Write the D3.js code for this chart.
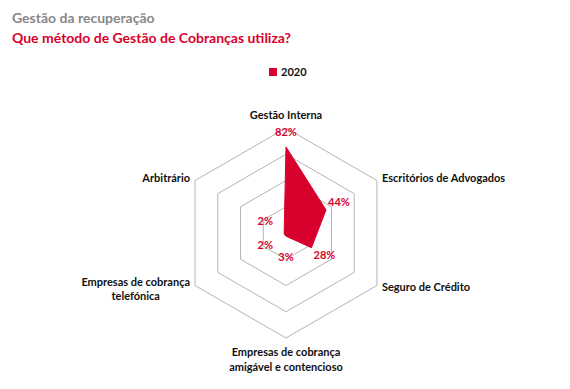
<!DOCTYPE html>
<html>
<head>
<meta charset="utf-8">
<script src="https://cdn.jsdelivr.net/npm/d3@7"></script>
<style>
  body { margin: 0; background: #fff; }
  svg text { font-family: Lato, "Open Sans", sans-serif; }
</style>
</head>
<body>
<script>
var categories = [
  ["Gestão Interna"],
  ["Escritórios de Advogados"],
  ["Seguro de Crédito"],
  ["Empresas de cobrança", "amigável e contencioso"],
  ["Empresas de cobrança", "telefónica"],
  ["Arbitrário"]
];
var values2020 = [82, 44, 28, 3, 2, 2];
var gridLevels = [25, 50, 75, 100];
var seriesName = "2020";

var red = "#d8002c";

function drawRadar() {
  var width = 570, height = 389;
  var cx = 286, cy = 233, R = 105;

  var svg = d3.select("body").append("svg")
    .attr("width", width)
    .attr("height", height);

  svg.append("text")
    .attr("x", 12).attr("y", 23)
    .attr("font-size", 14).attr("font-weight", "bold")
    .attr("fill", "#888")
    .text("Gestão da recuperação");

  svg.append("text")
    .attr("x", 12).attr("y", 43)
    .attr("font-size", 14).attr("font-weight", "bold")
    .attr("fill", red)
    .text("Que método de Gestão de Cobranças utiliza?");

  // legend
  var legend = svg.append("g").attr("transform", "translate(269,68)");
  legend.append("rect").attr("width", 8).attr("height", 8).attr("fill", red);
  legend.append("text")
    .attr("x", 12).attr("y", 8)
    .attr("font-size", 11).attr("font-weight", "bold")
    .attr("fill", "#111")
    .text(seriesName);

  var r = d3.scaleLinear().domain([0, 100]).range([0, R]);
  var angle = d3.scalePoint()
    .domain(d3.range(categories.length))
    .range([0, 2 * Math.PI * (categories.length - 1) / categories.length]);

  function pt(i, rad) {
    var a = angle(i);
    return [cx + rad * Math.sin(a), cy - rad * Math.cos(a)];
  }

  var line = d3.line();
  var g = svg.append("g");

  gridLevels.forEach(function (lv) {
    var pts = categories.map(function (c, i) { return pt(i, r(lv)); });
    g.append("path")
      .attr("d", line(pts) + "Z")
      .attr("fill", "none")
      .attr("stroke", "#b4b4b4")
      .attr("stroke-width", 1);
  });

  var dataPts = values2020.map(function (v, i) { return pt(i, r(v)); });
  g.append("path")
    .attr("d", line(dataPts) + "Z")
    .attr("fill", red)
    .attr("stroke", red)
    .attr("stroke-width", 1);

  // value labels
  values2020.forEach(function (v, i) {
    var p = pt(i, Math.max(r(v) + 15, 24));
    g.append("text")
      .attr("x", p[0]).attr("y", p[1])
      .attr("dy", "0.35em")
      .attr("text-anchor", "middle")
      .attr("font-size", 11).attr("font-weight", "bold")
      .attr("fill", red)
      .text(v + "%");
  });

  // axis labels
  categories.forEach(function (lines, i) {
    var a = angle(i);
    var s = Math.sin(a), c = Math.cos(a);
    var p = pt(i, R);
    var t = g.append("text")
      .attr("font-size", 11).attr("font-weight", "bold")
      .attr("fill", "#111");
    var lh = 14.5;
    var x, y, anchor;
    if (Math.abs(s) < 0.01) {
      anchor = "middle"; x = p[0];
      y = c > 0 ? p[1] - 9 - (lines.length - 1) * lh : p[1] + 18;
    } else if (s > 0) {
      anchor = "start"; x = p[0] + 5; y = p[1] + (c > 0 ? 1 : 5);
    } else {
      anchor = "end"; x = p[0] - 5; y = p[1] + (c > 0 ? 1 : 0);
    }
    t.attr("text-anchor", anchor);
    lines.forEach(function (ln, k) {
      t.append("tspan").attr("x", x).attr("y", y + k * lh).text(ln);
    });
    if (lines.length > 1 && anchor !== "middle") {
      // centre the lines inside the block
      var w = d3.max(t.selectAll("tspan").nodes(), function (n) { return n.getComputedTextLength(); });
      var mid = anchor === "end" ? x - w / 2 : x + w / 2;
      t.attr("text-anchor", "middle");
      t.selectAll("tspan").attr("x", mid);
    }
  });
}

document.addEventListener("DOMContentLoaded", function () {
  drawRadar();
});
</script>
</body>
</html>
